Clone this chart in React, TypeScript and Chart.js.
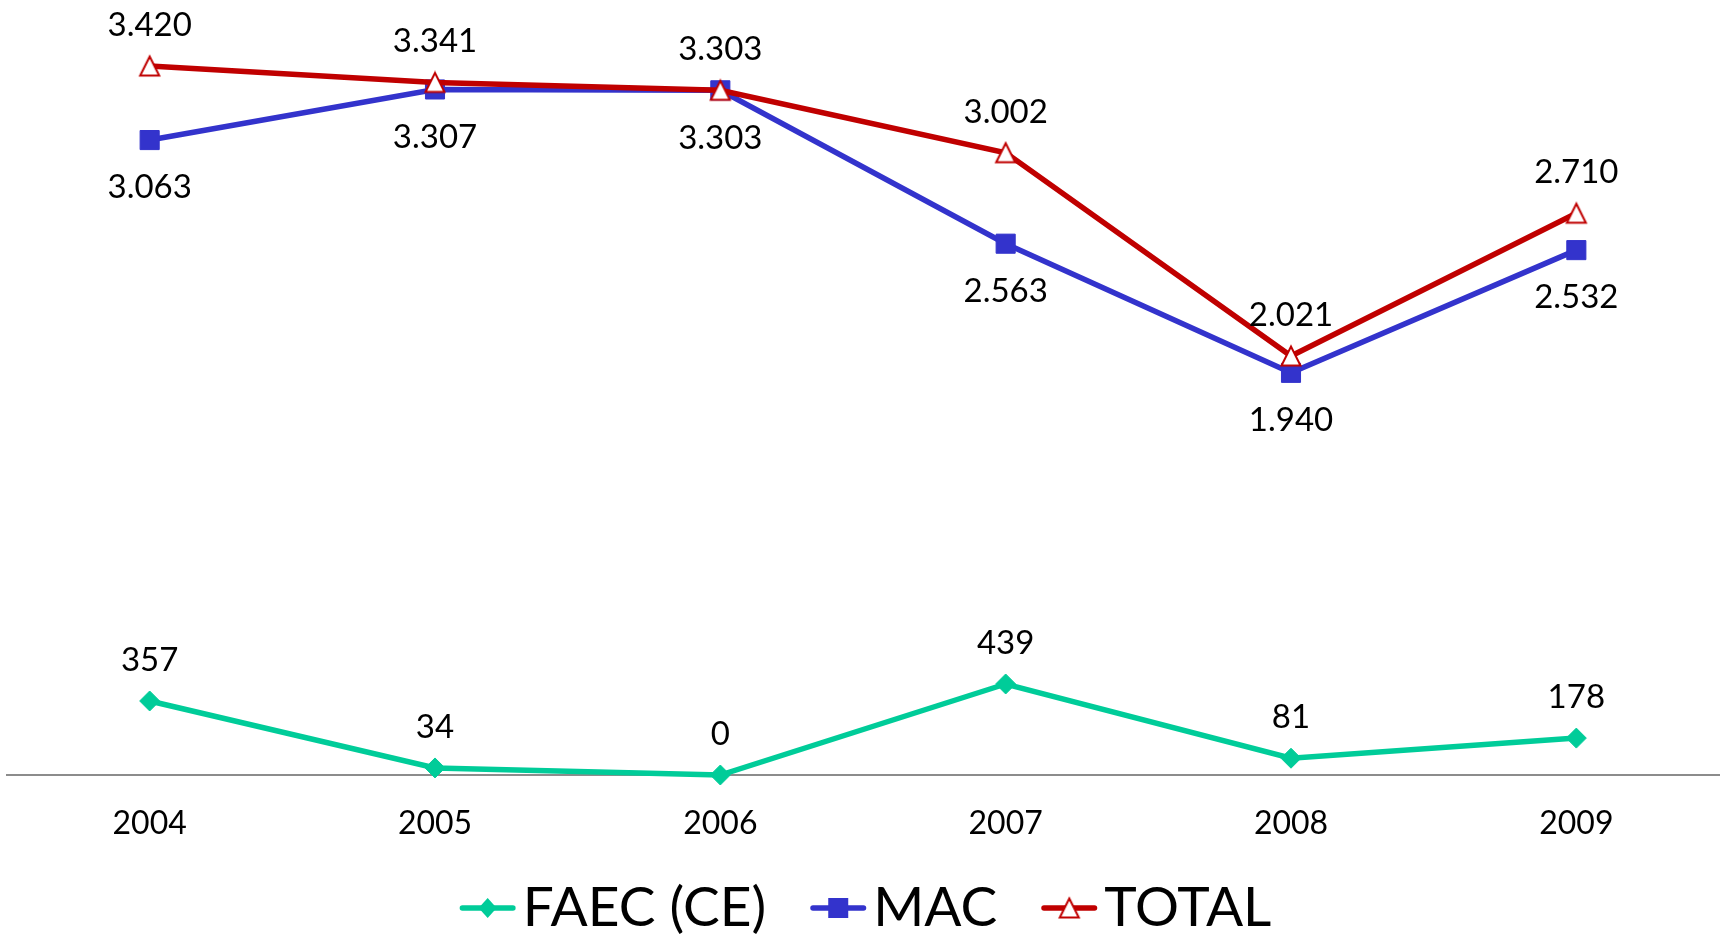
import React, { useEffect, useRef } from "react";
import { Chart, registerables } from "chart.js";

Chart.register(...registerables);

// ---- data ----
const years: string[] = ["2004", "2005", "2006", "2007", "2008", "2009"];
const faecValues: number[] = [357, 34, 0, 439, 81, 178];
const macValues: number[] = [3063, 3307, 3303, 2563, 1940, 2532];
const totalValues: number[] = [3420, 3341, 3303, 3002, 2021, 2710];
const seriesNames: string[] = ["FAEC (CE)", "MAC", "TOTAL"];

// ---- styles ----
const FONT = "Lato, Carlito, Calibri, 'Noto Sans', sans-serif";
const TEAL = "#00CC99";
const BLUE = "#3333CC";
const RED = "#C00000";
const AXIS = "#8C8C8C";

const fmt = (v: number) => String(v).replace(/\B(?=(\d{3})+(?!\d))/g, ".");

function makeTriangle(): HTMLCanvasElement {
  const c = document.createElement("canvas");
  c.width = 24;
  c.height = 24;
  const g = c.getContext("2d")!;
  g.beginPath();
  g.moveTo(12, 2.5);
  g.lineTo(21.5, 21.5);
  g.lineTo(2.5, 21.5);
  g.closePath();
  g.fillStyle = "#FFFFFF";
  g.fill();
  g.lineWidth = 2;
  g.lineJoin = "miter";
  g.strokeStyle = RED;
  g.stroke();
  return c;
}

export default function App() {
  const ref = useRef<HTMLCanvasElement | null>(null);

  useEffect(() => {
    if (!ref.current) return;
    const tri = makeTriangle();

    const dataLabels = {
      id: "dataLabels",
      afterDatasetsDraw(chart: any) {
        const ctx = chart.ctx;
        const size = 33;
        ctx.save();
        ctx.font = `${size}px ${FONT}`;
        ctx.fillStyle = "#000";
        ctx.textAlign = "center";
        ctx.textBaseline = "alphabetic";
        chart.data.datasets.forEach((ds: any, i: number) => {
          const meta = chart.getDatasetMeta(i);
          meta.data.forEach((pt: any, j: number) => {
            const v = ds.data[j];
            const cy = ds.labelSide === "below" ? pt.y + 46.5 : pt.y - 42;
            ctx.fillText(fmt(v), pt.x, cy + 0.358 * size);
          });
        });
        ctx.restore();
      },
    };

    const legendPlugin = {
      id: "customLegend",
      afterDraw(chart: any) {
        const ctx = chart.ctx;
        const size = 55;
        const colors = [TEAL, BLUE, RED];
        const lineLen = 56;
        const gap = 7;
        const sep = 44;
        const cy = 908;
        ctx.save();
        ctx.font = `${size}px ${FONT}`;
        const widths = seriesNames.map((n) => ctx.measureText(n).width);
        const total =
          widths.reduce((a, b) => a + b, 0) + seriesNames.length * (lineLen + gap) + sep * (seriesNames.length - 1);
        let x = (chart.width - total) / 2 + 2;
        seriesNames.forEach((name, i) => {
          ctx.beginPath();
          ctx.lineWidth = 5.5;
          ctx.lineCap = "round";
          ctx.strokeStyle = colors[i];
          ctx.moveTo(x + 2.75, cy);
          ctx.lineTo(x + lineLen - 2.75, cy);
          ctx.stroke();
          const mx = x + lineLen / 2;
          if (i === 0) {
            ctx.beginPath();
            ctx.moveTo(mx - 9, cy);
            ctx.lineTo(mx, cy - 10);
            ctx.lineTo(mx + 9, cy);
            ctx.lineTo(mx, cy + 10);
            ctx.closePath();
            ctx.fillStyle = TEAL;
            ctx.fill();
          } else if (i === 1) {
            ctx.fillStyle = BLUE;
            ctx.fillRect(mx - 10, cy - 10, 20, 20);
          } else {
            ctx.drawImage(tri, mx - 12, cy - 12);
          }
          ctx.fillStyle = "#000";
          ctx.textAlign = "left";
          ctx.textBaseline = "alphabetic";
          ctx.fillText(name, x + lineLen + gap, cy - 2 + 0.358 * size);
          x += lineLen + gap + widths[i] + sep;
        });
        ctx.restore();
      },
    };

    const chart = new Chart(ref.current, {
      type: "line",
      data: {
        labels: years,
        datasets: [
          {
            label: seriesNames[0],
            data: faecValues,
            borderColor: TEAL,
            backgroundColor: TEAL,
            borderWidth: 5.5,
            pointStyle: "rectRot",
            pointRadius: 10,
            pointBackgroundColor: TEAL,
            pointBorderColor: TEAL,
            pointBorderWidth: 1,
            order: 2,
            clip: false,
            labelSide: "above",
          } as any,
          {
            label: seriesNames[1],
            data: macValues,
            borderColor: BLUE,
            backgroundColor: BLUE,
            borderWidth: 5.5,
            pointStyle: "rect",
            pointRadius: 13.5,
            pointBackgroundColor: BLUE,
            pointBorderColor: BLUE,
            pointBorderWidth: 1,
            order: 1,
            clip: false,
            labelSide: "below",
          } as any,
          {
            label: seriesNames[2],
            data: totalValues,
            borderColor: RED,
            backgroundColor: RED,
            borderWidth: 5.5,
            pointStyle: tri,
            pointRadius: 12,
            order: 0,
            clip: false,
            labelSide: "above",
          } as any,
        ],
      },
      options: {
        animation: false,
        responsive: false,
        maintainAspectRatio: false,
        layout: { autoPadding: false, padding: { left: 7, right: 8, top: 8, bottom: 0 } },
        plugins: {
          legend: { display: false },
          tooltip: { enabled: false },
        },
        elements: { line: { tension: 0 } },
        scales: {
          x: {
            offset: true,
            grid: { display: false, drawTicks: false },
            border: { display: true, color: AXIS, width: 2 },
            ticks: {
              font: { family: FONT, size: 32 },
              color: "#000",
              padding: 29,
              maxRotation: 0,
              autoSkip: false,
            },
            afterFit: (s: any) => {
              s.height = 162;
            },
          },
          y: { display: false, min: 0, max: 3700 },
        },
      },
      plugins: [dataLabels, legendPlugin],
    });
    return () => chart.destroy();
  }, []);

  return (
    <div style={{ position: "fixed", left: 0, top: 0, width: 1727, height: 937, background: "#fff" }}>
      <canvas ref={ref} width={1727} height={937} style={{ display: "block" }} />
    </div>
  );
}
